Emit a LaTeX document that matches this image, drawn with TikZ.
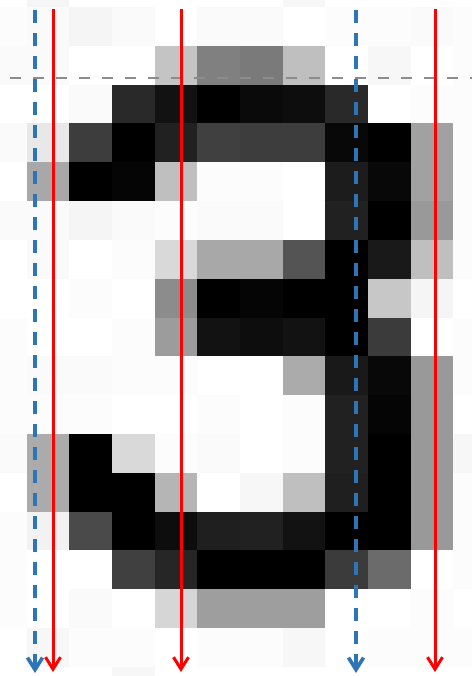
\documentclass[tikz,border=0pt]{standalone}
\usepackage{xcolor}
\usepackage{tikz}
\usetikzlibrary{arrows.meta}
\definecolor{scanblue}{RGB}{46,117,182}
\definecolor{scanred}{RGB}{255,0,0}
\definecolor{midline}{RGB}{140,140,140}

\begin{document}
\begin{tikzpicture}[x=0.5pt,y=-0.5pt,>={Straight Barb[length=6pt,width=7.5pt]}]
\tikzstyle{redscan}=[draw=scanred,line width=1.5pt,->]
\tikzstyle{bluescan}=[draw=scanblue,line width=1.8pt,dash pattern=on 6.5pt off 5pt,->]
\tikzstyle{baseline}=[draw=midline,line width=1pt,dash pattern=on 5.5pt off 6pt]
\useasboundingbox (0,0) rectangle (472,676);
\clip (0,0) rectangle (472,676);
% pixel grid of the digit, values in percent white
\foreach \row [count=\r from 0] in {
 {100,96,100,100,100,100,100,97,100,100,100,100},
 {99,98,96,98,100,98,98,100,99,99,98,99},
 {98,98,100,100,77,50,48,75,100,97,100,99},
 {100,100,98,16,7,0,4,5,16,100,99,99},
 {98,91,24,0,13,25,24,24,3,0,63,99},
 {100,66,0,2,75,99,99,100,11,3,63,99},
 {98,98,96,98,99,98,98,100,13,0,60,99},
 {100,98,100,99,85,66,66,33,0,10,75,99},
 {100,100,99,100,55,0,2,0,0,78,96,100},
 {99,100,100,99,61,7,5,7,0,23,100,99},
 {99,98,98,99,99,100,100,67,10,3,60,99},
 {99,99,99,100,100,99,100,99,13,2,60,100},
 {98,67,0,85,99,98,100,99,13,0,60,97},
 {100,67,0,0,71,100,97,75,12,0,60,99},
 {99,95,29,0,5,12,13,7,0,0,60,99},
 {99,100,100,25,15,0,0,0,23,42,100,99},
 {99,100,98,100,84,62,62,62,100,100,99,100},
 {100,97,99,99,100,99,99,97,100,99,99,99},
 {100,100,100,97,100,100,100,100,100,100,100,100}}
{
  \foreach \v [count=\c from 0] in \row
    \fill[white!\v!black] (-15.99+\c*42.66,-31.82+\r*38.82) rectangle ++(43.2,39.4);
}
% scan lines
\coordinate (midL) at (10,78);
\coordinate (midR) at (472,78);
\draw[baseline] (midL) -- (midR);
\foreach \n/\x in {blueA/35,blueB/356}{
  \coordinate (\n top) at (\x,10);
  \coordinate (\n end) at (\x,673);
  \draw[bluescan] (\n top) -- (\n end);
}
\foreach \n/\x in {redA/53,redB/181,redC/435}{
  \coordinate (\n top) at (\x,9);
  \coordinate (\n end) at (\x,672);
  \draw[redscan] (\n top) -- (\n end);
}
\end{tikzpicture}
\end{document}
